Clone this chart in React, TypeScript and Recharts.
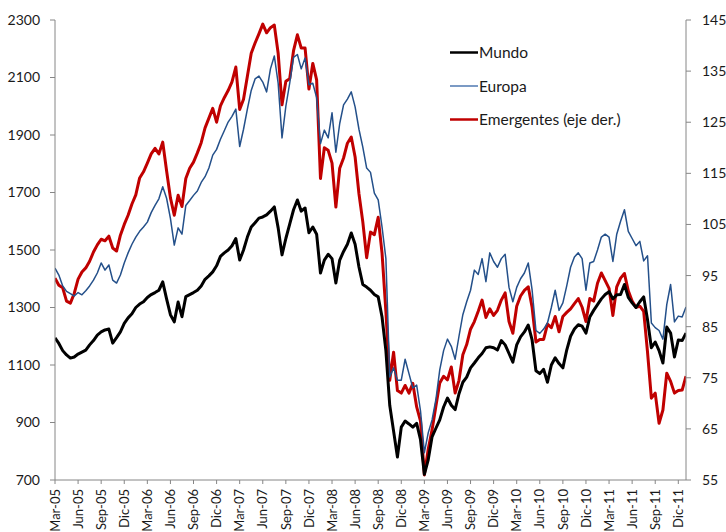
import React from "react";
import { LineChart, Line, XAxis, YAxis } from "recharts";

// Quarter tick labels (x axis, months since Mar-05)
const quarterLabels = [
  "Mar-05","Jun-05","Sep-05","Dic-05","Mar-06","Jun-06","Sep-06","Dic-06",
  "Mar-07","Jun-07","Sep-07","Dic-07","Mar-08","Jun-08","Sep-08","Dic-08",
  "Mar-09","Jun-09","Sep-09","Dic-09","Mar-10","Jun-10","Sep-10","Dic-10",
  "Mar-11","Jun-11","Sep-11","Dic-11",
];
const quarterTicks = quarterLabels.map((_, i) => i * 3);

const leftTicks = [700, 900, 1100, 1300, 1500, 1700, 1900, 2100, 2300];
const rightTicks = [55, 65, 75, 85, 95, 105, 115, 125, 135, 145];

// Series, sampled every half month starting Mar-05
const mundo = [
  1194,1175,1150,1135,1124,1128,1138,1145,1152,1170,
  1185,1204,1215,1222,1225,1176,1195,1215,1245,1264,
  1278,1300,1312,1320,1335,1345,1352,1360,1389,1330,
  1275,1250,1319,1268,1338,1345,1352,1360,1375,1398,
  1410,1424,1445,1478,1490,1500,1515,1540,1465,1500,
  1545,1580,1595,1611,1615,1622,1635,1650,1577,1483,
  1540,1590,1640,1674,1635,1646,1560,1580,1555,1420,
  1465,1485,1470,1385,1465,1495,1520,1559,1520,1441,
  1380,1371,1360,1345,1337,1267,1150,960,870,780,
  884,905,895,884,897,840,720,770,850,880,
  909,954,985,960,945,1000,1040,1058,1090,1107,
  1125,1140,1160,1163,1160,1152,1185,1170,1140,1110,
  1170,1198,1215,1239,1187,1080,1070,1085,1040,1100,
  1125,1105,1090,1152,1200,1225,1240,1235,1211,1267,
  1290,1310,1330,1345,1355,1330,1344,1345,1380,1335,
  1316,1300,1320,1337,1257,1160,1180,1150,1107,1232,
  1211,1128,1187,1185,1211,
];

const europa = [
  1437,1413,1375,1356,1348,1340,1352,1344,1358,1375,
  1395,1420,1455,1430,1448,1395,1385,1413,1455,1490,
  1520,1545,1565,1580,1597,1630,1655,1678,1720,1680,
  1610,1517,1577,1555,1655,1672,1690,1705,1735,1755,
  1785,1830,1850,1885,1915,1945,1965,1990,1860,1920,
  1990,2055,2095,2105,2084,2050,2130,2175,2080,1890,
  2000,2080,2170,2180,2130,2168,2075,2080,2030,1870,
  1917,1890,1977,1840,1940,2005,2025,2050,1998,1920,
  1858,1785,1770,1698,1674,1580,1470,1058,1090,1047,
  1047,1120,1070,1020,1030,940,795,864,909,980,
  1083,1150,1190,1165,1120,1200,1275,1320,1360,1430,
  1415,1470,1390,1490,1460,1440,1470,1485,1370,1320,
  1370,1400,1420,1455,1361,1220,1210,1225,1246,1300,
  1360,1290,1316,1375,1440,1476,1490,1470,1360,1455,
  1460,1500,1545,1555,1545,1460,1555,1600,1640,1565,
  1540,1515,1530,1462,1480,1246,1230,1220,1190,1310,
  1380,1250,1270,1267,1302,
];

const emergentes = [
  94.5,93.1,92.6,90.0,89.6,91.5,94.3,95.7,96.5,97.8,
  99.6,101.0,102.1,101.8,102.7,100.4,99.8,102.9,105.0,106.8,
  109.0,110.8,114.1,115.3,117.0,118.8,119.9,118.8,121.1,115.5,
  110.2,106.8,110.7,108.5,114.0,116.0,117.2,119.0,121.0,123.9,
  125.8,127.7,125.0,128.2,129.8,131.2,132.9,135.8,127.5,129.5,
  134.0,138.5,140.5,142.3,144.2,142.5,143.5,144.0,138.5,128.4,
  133.0,133.5,139.0,142.1,139.5,139.5,131.5,136.5,133.3,114.0,
  120.0,119.5,117.0,108.4,116.0,118.0,120.9,122.1,118.2,111.0,
  105.5,98.5,103.5,103.0,106.4,99.4,88.0,74.5,80.0,72.5,
  72.0,73.5,72.0,73.9,69.3,66.5,56.0,61.0,64.8,69.5,
  74.0,75.3,74.6,77.1,72.0,74.5,79.5,81.5,84.5,86.0,
  88.0,90.2,86.8,88.5,87.2,88.2,90.2,91.6,86.0,83.7,
  89.0,91.0,92.1,92.8,88.8,82.0,82.5,82.5,85.5,84.8,
  87.0,84.0,87.0,87.8,88.5,89.5,90.5,88.8,86.0,90.5,
  90.0,93.5,95.5,94.0,92.5,87.2,92.8,94.5,95.4,92.0,
  90.0,88.8,89.0,88.0,80.0,71.0,72.0,66.1,68.7,75.9,
  74.3,72.0,72.5,72.6,75.3,
];

const data = mundo.map((m, i) => ({
  t: i / 2,
  mundo: m,
  europa: europa[i],
  emergentes: emergentes[i],
}));

const FONT = "Lato, 'Liberation Sans', sans-serif";
const AXIS_COLOR = "#868686";

const XTick = (props: any) => {
  const { x, y, payload } = props;
  const idx = Math.round(payload.value / 3);
  return (
    <g transform={`translate(${x},${y})`}>
      <text
        transform="rotate(-90)"
        x={-3}
        y={0}
        dy="0.36em"
        textAnchor="end"
        fontSize={13}
        fontFamily={FONT}
        fill="#1a1a1a"
      >
        {quarterLabels[idx]}
      </text>
    </g>
  );
};

const legendItems = [
  { label: "Mundo", color: "#000000", width: 2.5 },
  { label: "Europa", color: "#4f79b0", width: 1.5 },
  { label: "Emergentes (eje der.)", color: "#c00000", width: 2.5 },
];

const LegendBox = () => (
  <svg width={220} height={100} style={{ position: "absolute", left: 448, top: 40 }}>
    {legendItems.map((it, i) => {
      const cy = 12.5 + i * 33.5;
      return (
        <g key={it.label}>
          <line x1={2} x2={30} y1={cy} y2={cy} stroke={it.color} strokeWidth={it.width} />
          <text x={31} y={cy} dy="0.36em" fontSize={15.5} fontFamily={FONT} fill="#1a1a1a">
            {it.label}
          </text>
        </g>
      );
    })}
  </svg>
);

export default function App() {
  return (
    <div style={{ position: "absolute", left: 0, top: 0, width: 726, height: 532, background: "#fff" }}>
      <LineChart
        width={726}
        height={532}
        data={data}
        margin={{ top: 20, right: 0, bottom: 0, left: 0 }}
      >
        <XAxis
          dataKey="t"
          type="number"
          domain={[0, 82]}
          ticks={quarterTicks}
          interval={0}
          height={52}
          tick={<XTick />}
          tickSize={4}
          tickMargin={2}
          stroke={AXIS_COLOR}
          allowDataOverflow
        />
        <YAxis
          yAxisId="left"
          domain={[700, 2300]}
          ticks={leftTicks}
          interval={0}
          width={55}
          tickSize={5}
          tickMargin={10}
          stroke={AXIS_COLOR}
          tick={{ fill: "#1a1a1a", fontSize: 14, fontFamily: FONT }}
          allowDataOverflow
        />
        <YAxis
          yAxisId="right"
          orientation="right"
          domain={[55, 145]}
          ticks={rightTicks}
          interval={0}
          width={40}
          tickSize={5}
          tickMargin={11}
          stroke={AXIS_COLOR}
          tick={{ fill: "#1a1a1a", fontSize: 14, fontFamily: FONT, textAnchor: "start" }}
          allowDataOverflow
        />
        <Line
          yAxisId="right"
          dataKey="emergentes"
          name="Emergentes (eje der.)"
          stroke="#c00000"
          strokeWidth={3}
          dot={false}
          isAnimationActive={false}
          strokeLinejoin="round"
        />
        <Line
          yAxisId="left"
          dataKey="mundo"
          name="Mundo"
          stroke="#000000"
          strokeWidth={3}
          dot={false}
          isAnimationActive={false}
          strokeLinejoin="round"
        />
        <Line
          yAxisId="left"
          dataKey="europa"
          name="Europa"
          stroke="#24508a"
          strokeWidth={1.5}
          dot={false}
          isAnimationActive={false}
          strokeLinejoin="round"
        />
      </LineChart>
      <LegendBox />
    </div>
  );
}
